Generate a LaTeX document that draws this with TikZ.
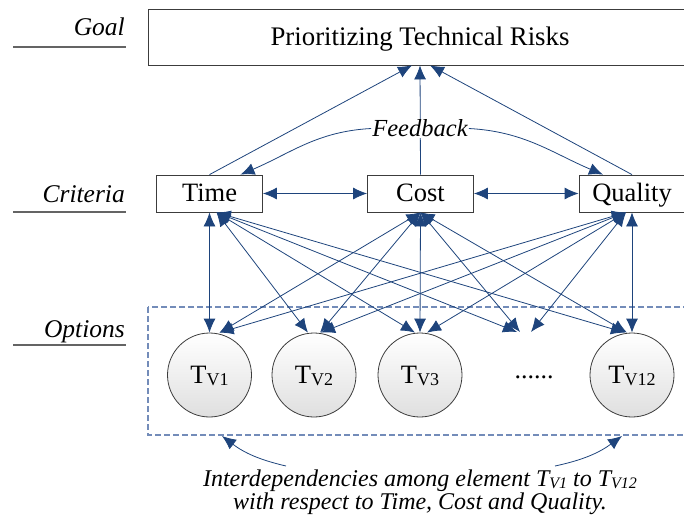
\documentclass[tikz,border=0pt]{standalone}
\usepackage{fontspec}
\setmainfont{Liberation Serif}
\usetikzlibrary{arrows.meta}
\definecolor{arr}{RGB}{30,68,124}
\definecolor{boxline}{RGB}{60,60,60}
\definecolor{dashc}{RGB}{115,140,185}
\definecolor{rulec}{RGB}{100,100,100}
\newcommand{\tsub}[1]{\raisebox{-2.5pt}{\fontsize{18}{18}\selectfont #1}}
\newcommand{\isub}[1]{\raisebox{-2pt}{\fontsize{16}{16}\selectfont #1}}
\begin{document}
\begin{tikzpicture}[x=1pt,y=1pt,
  critbox/.style={draw=boxline, line width=0.8pt, minimum width=106pt, minimum height=37pt, inner sep=0pt,
    font=\fontsize{26.5}{30}\selectfont, text height=19pt, text depth=4pt},
  goalbox/.style={draw=boxline, line width=0.8pt, minimum width=544pt, minimum height=56pt, inner sep=0pt,
    font=\fontsize{26.8}{30}\selectfont, text height=20pt, text depth=4pt},
  optnode/.style={circle, draw=boxline, line width=0.8pt, top color=white, bottom color=gray!25,
    minimum size=84pt, inner sep=0pt, font=\fontsize{26.5}{30}\selectfont, text height=17pt, text depth=1pt},
  sidelab/.style={font=\itshape\fontsize{25.5}{30}\selectfont, inner sep=0pt},
  siderule/.style={draw=rulec, line width=1.2pt},
  con/.style={draw=arr, line width=0.8pt, -{Latex[length=14pt,width=12pt]}},
  bicon/.style={draw=arr, line width=0.8pt, {Latex[length=14pt,width=12pt]}-{Latex[length=14pt,width=12pt]}},
  dashbox/.style={draw=dashc, line width=1.1pt, dash pattern=on 6pt off 3pt}
]
\useasboundingbox (0,0) rectangle (684,-520);

% side labels
\node[sidelab, anchor=base east] (lgoal) at (125,-35) {Goal};
\draw[siderule] (13,-47) -- (126,-47);
\node[sidelab, anchor=base east] (lcrit) at (125,-202) {Criteria};
\draw[siderule] (13,-212) -- (126,-212);
\node[sidelab, anchor=base east] (lopt) at (125,-337) {Options};
\draw[siderule] (13,-345) -- (126,-345);

% dashed options frame
\draw[dashbox] (148,-307) rectangle (700,-435);

% nodes
\node[goalbox] (goal) at (420,-37) {Prioritizing Technical Risks};
\node[critbox] (time) at (209.5,-193.5) {Time};
\node[critbox] (cost) at (420.5,-193.5) {Cost};
\node[critbox] (quality) at (632,-193.5) {Quality};

\node[optnode] (t1) at (209.5,-375) {T\tsub{V1}};
\node[optnode] (t2) at (314,-375) {T\tsub{V2}};
\node[optnode] (t3) at (420,-375) {T\tsub{V3}};
\node[font=\fontsize{26}{30}\selectfont, inner sep=0pt] (dots) at (534,-377) {......};
\coordinate (dtop) at (525,-332);
\node[optnode] (t12) at (632,-375) {T\tsub{V12}};

% goal connectors
\draw[con] (time.north) -- ([xshift=-8pt]goal.south);
\draw[con] (cost.north) -- (goal.south);
\draw[con] (quality.north) -- ([xshift=10pt]goal.south);

% feedback
\node[font=\itshape\fontsize{24.5}{28}\selectfont, fill=white, inner sep=1pt] (fb) at (420,-128.5) {Feedback};
\draw[con] (fb.west) to[out=183,in=23] ([xshift=31pt]time.north);
\draw[con] (fb.east) to[out=-3,in=157] ([xshift=-29pt]quality.north);

% criteria links
\draw[bicon] (time.east) -- (cost.west);
\draw[bicon] (cost.east) -- (quality.west);

% time to options
\draw[bicon] (time.south) -- (t1.north);
\draw[bicon] ([xshift=7pt]time.south) -- ([xshift=-6pt]t2.north);
\draw[bicon] ([xshift=7pt]time.south) -- ([xshift=-5pt]t3.north);
\draw[bicon] ([xshift=7pt]time.south) -- ([xshift=-8pt]dtop);
\draw[bicon] ([xshift=7pt]time.south) -- ([xshift=-7pt]t12.north);
% cost to options
\draw[bicon] (cost.south) -- ([xshift=10pt]t1.north);
\draw[bicon] (cost.south) -- ([xshift=6pt]t2.north);
\draw[bicon] (cost.south) -- (t3.north);
\draw[bicon] (cost.south) -- ([xshift=-5pt]dtop);
\draw[bicon] (cost.south) -- ([xshift=-5pt]t12.north);
% quality to options
\draw[bicon] ([xshift=-6pt]quality.south) -- ([xshift=10pt]t1.north);
\draw[bicon] ([xshift=-6pt]quality.south) -- ([xshift=7pt]t2.north);
\draw[bicon] ([xshift=-6pt]quality.south) -- ([xshift=7pt]t3.north);
\draw[bicon] ([xshift=-6pt]quality.south) -- ([xshift=6pt]dtop);
\draw[bicon] (quality.south) -- (t12.north);

% note
\node[font=\itshape\fontsize{24}{23}\selectfont, align=center, inner sep=0pt] (note) at (420,-492)
  {Interdependencies among element T\isub{V1} to T\isub{V12}\\with respect to Time, Cost and Quality.};
\coordinate (la) at (286,-466);
\coordinate (lt) at (222,-436);
\coordinate (ra) at (555,-466);
\coordinate (rt) at (622,-436);
\draw[con] (la) to[bend left=12] (lt);
\draw[con] (ra) to[bend right=12] (rt);
\end{tikzpicture}
\end{document}
